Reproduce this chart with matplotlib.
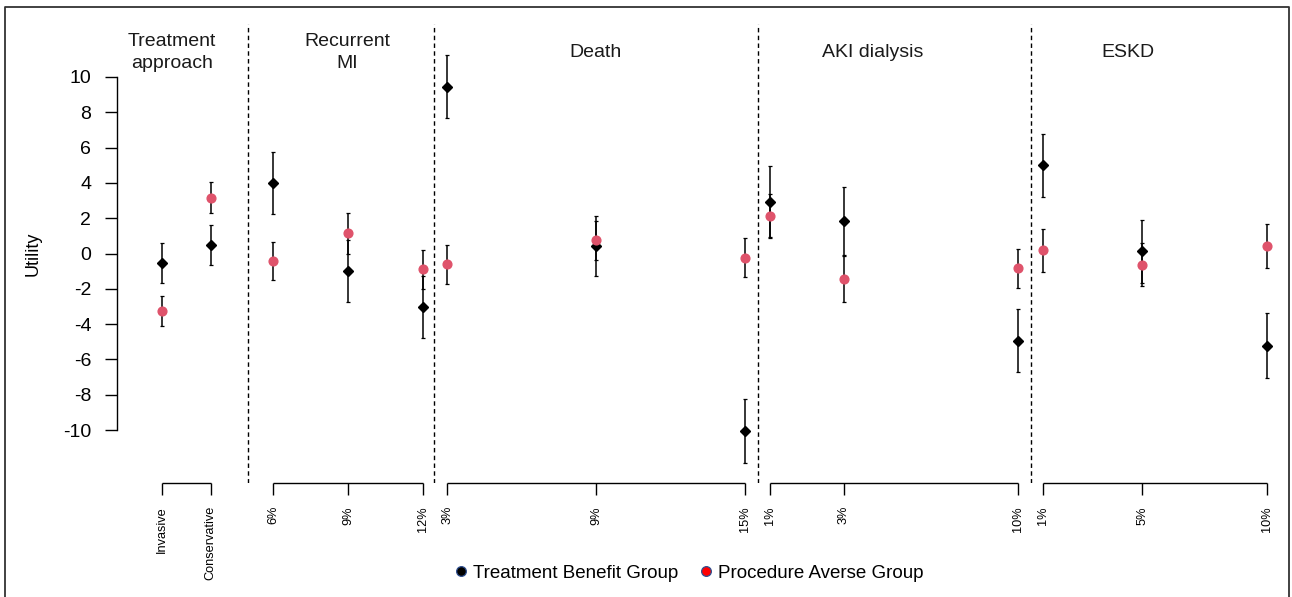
import matplotlib
matplotlib.use("Agg")
import matplotlib.pyplot as plt
from matplotlib.lines import Line2D

plt.rcParams["font.family"] = ["Liberation Sans", "DejaVu Sans"]
plt.rcParams["axes.unicode_minus"] = False

# x positions of each level on the plot scale, tick labels, group info
levels = ["Invasive", "Conservative", "6%", "9%", "12%", "3%", "9%", "15%",
          "1%", "3%", "10%", "1%", "5%", "10%"]
xpos = [1.82, 3.81, 6.35, 9.39, 12.43, 13.43, 19.47, 25.53,
        26.53, 29.55, 36.61, 37.65, 41.67, 46.74]
group_of = [0, 0, 1, 1, 1, 2, 2, 2, 3, 3, 3, 4, 4, 4]
group_names = ["Treatment\napproach", "Recurrent\nMI", "Death", "AKI dialysis", "ESKD"]
group_title_x = [2.24, 9.35, 19.46, 30.7, 41.09]
separators = [5.33, 12.89, 26.06, 37.14]

# Treatment Benefit Group (black)
benefit_mean = [-0.55, 0.47, 3.98, -0.99, -3.01, 9.45, 0.44, -10.04,
                2.94, 1.82, -4.94, 5.0, 0.12, -5.22]
benefit_err = [1.12, 1.12, 1.76, 1.74, 1.76, 1.8, 1.7, 1.81,
               2.0, 1.95, 1.8, 1.78, 1.8, 1.83]
# Procedure Averse Group (red)
averse_mean = [-3.24, 3.16, -0.41, 1.14, -0.9, -0.61, 0.76, -0.25,
               2.12, -1.43, -0.84, 0.18, -0.63, 0.41]
averse_err = [0.86, 0.87, 1.07, 1.15, 1.12, 1.1, 1.1, 1.1,
              1.26, 1.32, 1.12, 1.2, 1.2, 1.25]

W, H = 1292, 597
fig = plt.figure(figsize=(W / 100, H / 100), dpi=100)
ax = fig.add_axes([117 / W, (H - 483) / H, (1289 - 117) / W, (483 - 24) / H])
ax.set_xlim(0, 47.64)
ax.set_ylim(-13, 13)

ax.errorbar(xpos, benefit_mean, yerr=benefit_err, fmt="D", color="black",
            ms=5.6, ecolor="black", elinewidth=1.1, capsize=1.6, capthick=0.9)
ax.errorbar(xpos, averse_mean, yerr=averse_err, fmt="o", color="#DF536B",
            ms=6.3, ecolor="black", elinewidth=1.1, capsize=1.6, capthick=0.9)

for s in separators:
    ax.axvline(s, color="black", lw=1.0, linestyle=(0, (3.2, 2.4)))

for name, gx in zip(group_names, group_title_x):
    ax.text(gx, 11.4, name, ha="center", va="center", fontsize=14,
            color="#1a1a1a", linespacing=1.4)

# axes in base-R style
for side in ["top", "right", "bottom"]:
    ax.spines[side].set_visible(False)
ax.spines["left"].set_bounds(-10, 10)
ax.spines["left"].set_linewidth(1.0)
ax.set_yticks(range(-10, 11, 2))
ax.tick_params(axis="y", length=8.6, width=1.0, pad=10, labelsize=14)

ax.set_xticks(xpos)
ax.set_xticklabels(levels, rotation=90, fontsize=9.2, va="top")
ax.tick_params(axis="x", length=8.6, width=1.0, pad=8)
for g in range(len(group_names)):
    gx = [x for x, k in zip(xpos, group_of) if k == g]
    ax.hlines(-13, min(gx), max(gx), color="black", lw=1.0, clip_on=False)

ax.set_ylabel("Utility", fontsize=13)
ax.yaxis.set_label_coords(-0.064, 0.5)

handles = [
    Line2D([], [], marker="o", ls="none", ms=7, markerfacecolor="black",
           markeredgecolor="#2f4f8f", markeredgewidth=0.9),
    Line2D([], [], marker="o", ls="none", ms=7, markerfacecolor="#ff0000",
           markeredgecolor="#2f4f8f", markeredgewidth=0.9),
]
fig.legend(handles, ["Treatment Benefit Group", "Procedure Averse Group"],
           loc="center", bbox_to_anchor=(690 / W, 1 - 573 / H), ncol=2,
           frameon=False, fontsize=13.5, handlelength=0.5, handletextpad=0.4,
           columnspacing=1.2, borderpad=0, borderaxespad=0)

# outer frame (no bottom edge in the reference)
fx0, fx1, fy1 = 5 / W, 1289 / W, 1 - 7 / H
fig.add_artist(Line2D([fx0, fx0, fx1, fx1], [0, fy1, fy1, 0],
                      transform=fig.transFigure, color="#333333", lw=1.3))

fig.savefig("out.png", dpi=100)
